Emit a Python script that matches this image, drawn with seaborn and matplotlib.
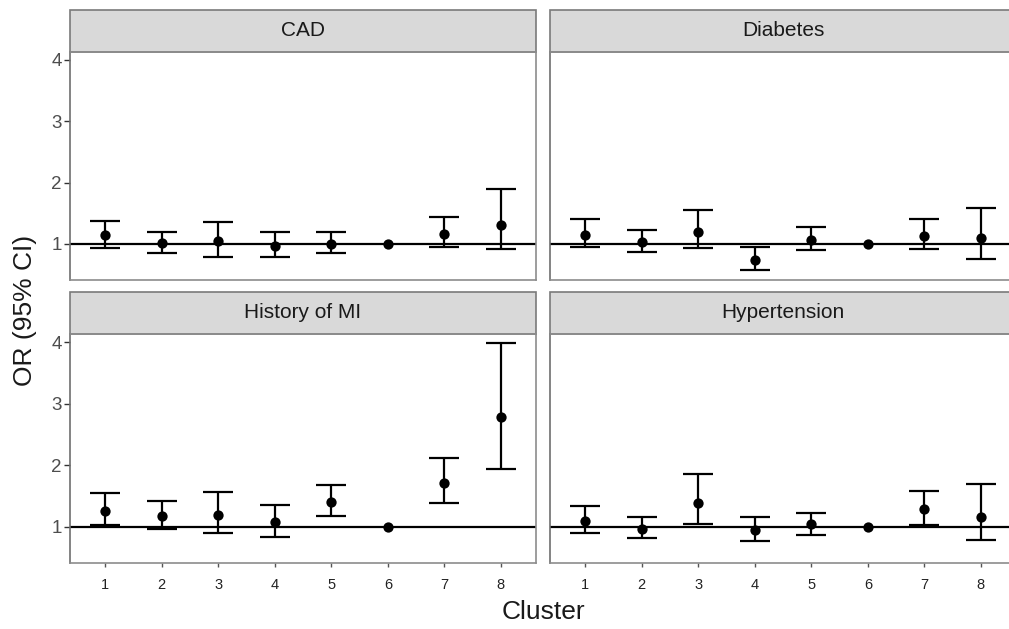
import numpy as np
import pandas as pd
import seaborn as sns
import matplotlib
matplotlib.use("Agg")
import matplotlib.pyplot as plt
from matplotlib.patches import Rectangle

# values
clusters = [1, 2, 3, 4, 5, 6, 7, 8]
outcomes = ["CAD", "Diabetes", "History of MI", "Hypertension"]

cad_or = [1.14, 1.01, 1.04, 0.96, 1.00, 1.00, 1.16, 1.31]
cad_lo = [0.93, 0.85, 0.79, 0.78, 0.85, 1.00, 0.95, 0.91]
cad_hi = [1.38, 1.20, 1.35, 1.19, 1.19, 1.00, 1.44, 1.90]

dia_or = [1.14, 1.03, 1.20, 0.74, 1.07, 1.00, 1.13, 1.10]
dia_lo = [0.95, 0.86, 0.93, 0.57, 0.90, 1.00, 0.92, 0.75]
dia_hi = [1.40, 1.23, 1.55, 0.95, 1.27, 1.00, 1.40, 1.58]

mi_or = [1.26, 1.17, 1.19, 1.08, 1.40, 1.00, 1.71, 2.78]
mi_lo = [1.02, 0.97, 0.90, 0.84, 1.17, 1.00, 1.38, 1.94]
mi_hi = [1.54, 1.41, 1.56, 1.35, 1.68, 1.00, 2.11, 3.98]

hyp_or = [1.10, 0.97, 1.39, 0.95, 1.04, 1.00, 1.28, 1.15]
hyp_lo = [0.90, 0.81, 1.04, 0.76, 0.87, 1.00, 1.02, 0.78]
hyp_hi = [1.34, 1.15, 1.85, 1.16, 1.23, 1.00, 1.58, 1.69]

li = []
for name, o, lo, hi in zip(outcomes,
                           [cad_or, dia_or, mi_or, hyp_or],
                           [cad_lo, dia_lo, mi_lo, hyp_lo],
                           [cad_hi, dia_hi, mi_hi, hyp_hi]):
    li.append(pd.DataFrame({"outcome": name, "cluster": clusters,
                            "or": o, "lo": lo, "hi": hi}))
df = pd.concat(li, ignore_index=True)

sns.set_style("white")
plt.rcParams["font.family"] = ["Liberation Sans", "DejaVu Sans"]


def draw_ci(data, **kws):
    ax = plt.gca()
    ax.axhline(1, color="black", lw=1.6, zorder=1)
    ci = data[data["hi"] > data["lo"]]  # reference cluster has no interval
    yerr = np.vstack([ci["or"] - ci["lo"], ci["hi"] - ci["or"]])
    ax.errorbar(ci["cluster"], ci["or"], yerr=yerr, fmt="none",
                ecolor="black", elinewidth=1.6, capsize=10.5, capthick=1.6,
                zorder=2)
    sns.scatterplot(data=data, x="cluster", y="or", color="black", s=55,
                    edgecolor="black", linewidth=0, ax=ax, zorder=3)


g = sns.FacetGrid(df, col="outcome", col_wrap=2, sharex=True, sharey=True,
                  height=3, aspect=1.6)
g.map_dataframe(draw_ci)
g.figure.set_size_inches(10.09, 6.29)

W, H = 1009, 629
# pixel boxes: left, top, right, bottom
boxes = [(70, 52, 536, 280), (550, 52, 1016, 280),
         (70, 334, 536, 563), (550, 334, 1016, 563)]

for i, ax in enumerate(g.axes.flat):
    l, t, r, b = boxes[i]
    ax.set_position([l / W, 1 - b / H, (r - l) / W, (b - t) / H])
    ax.set_xlim(0.38, 8.62)
    ax.set_ylim(0.41, 4.13)
    ax.set_yticks([1, 2, 3, 4])
    ax.set_xticks(clusters)
    ax.set_title("")
    ax.set_xlabel("")
    ax.set_ylabel("")
    for s in ax.spines.values():
        s.set_visible(True)
        s.set_color("#8c8c8c")
        s.set_linewidth(1.2)
    ax.spines["left"].set_color("#6e6e6e")
    ax.tick_params(axis="y", left=(i % 2 == 0), labelleft=(i % 2 == 0),
                   length=4, width=1, color="#333333", labelsize=13.5,
                   labelcolor="#4d4d4d", pad=2)
    ax.tick_params(axis="x", bottom=(i >= 2), labelbottom=(i >= 2),
                   length=3, width=1, color="#555555", labelsize=10.5,
                   labelcolor="#222222", pad=8)
    # facet strip
    strip_h = 42 / (b - t)
    ax.add_patch(Rectangle((0, 1), 1, strip_h, transform=ax.transAxes,
                           facecolor="#d9d9d9", edgecolor="#7a7a7a",
                           lw=1.2, clip_on=False))
    ax.text(0.5, 1 + strip_h / 2, outcomes[i], transform=ax.transAxes,
            ha="center", va="center", fontsize=15, color="#1a1a1a")

g.figure.text(25 / W, 1 - 310 / H, "OR (95% CI)", rotation=90,
              ha="center", va="center", fontsize=19, color="#1a1a1a")
g.figure.text(543 / W, 1 - 612 / H, "Cluster", ha="center", va="center",
              fontsize=19, color="#1a1a1a")

plt.savefig("out.png", dpi=100)
